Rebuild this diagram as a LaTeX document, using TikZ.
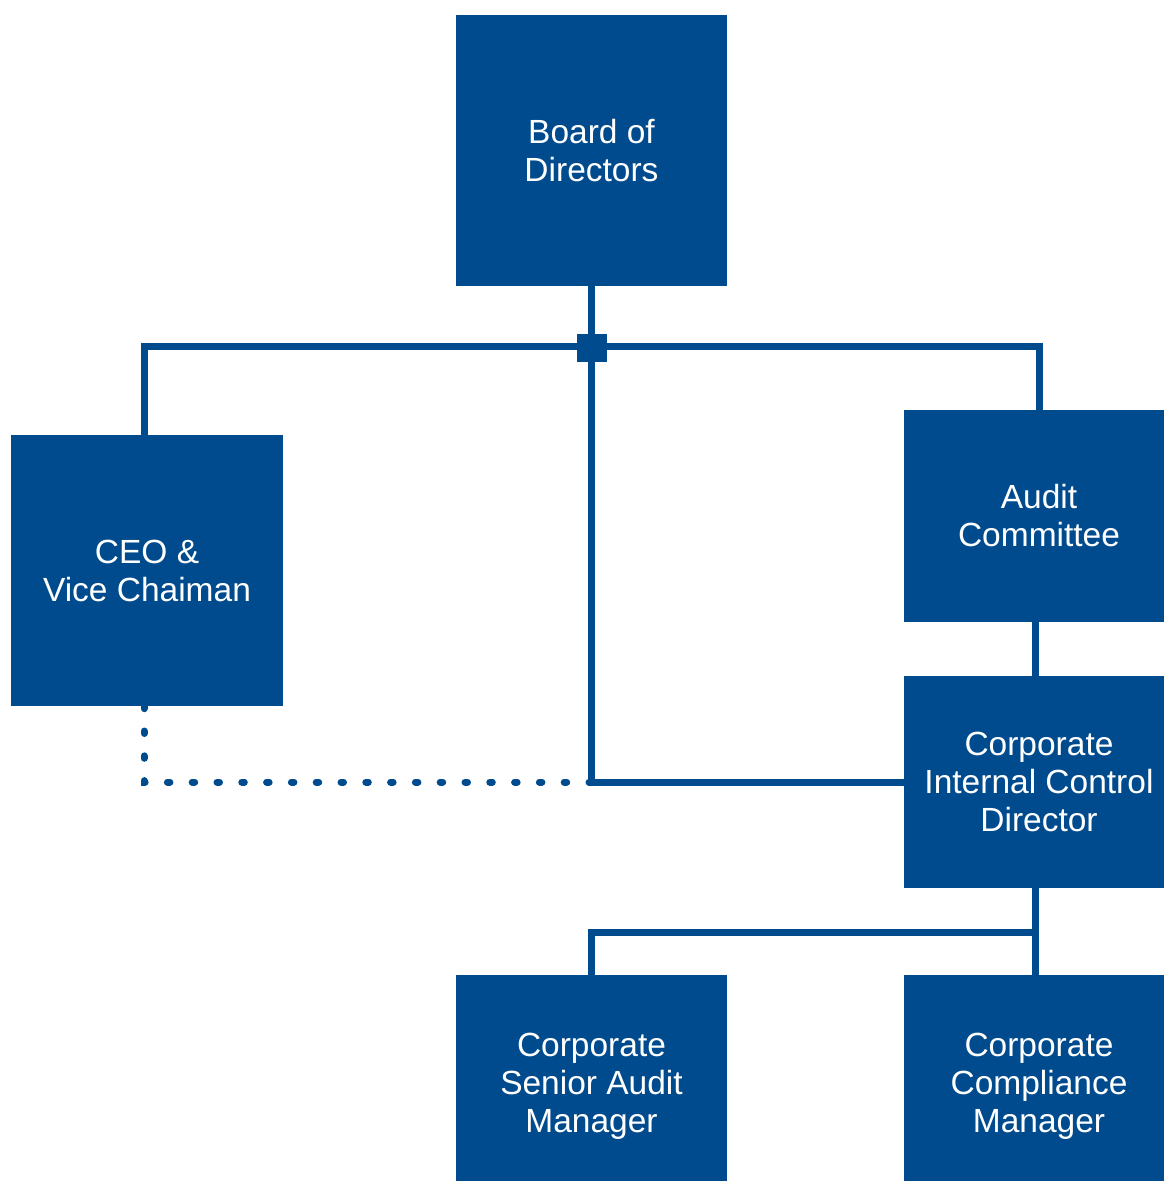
\documentclass[tikz,border=0pt]{standalone}
\usepackage{fontspec}
\setmainfont{Liberation Sans}
\definecolor{navy}{HTML}{004B8D}
\begin{document}
\begin{tikzpicture}[x=1pt,y=-1pt,
  box/.style={draw=none,fill=navy,text=white,align=center,inner sep=0pt,
    font=\fontsize{33.5}{38}\selectfont},
  link/.style={draw=navy,line width=7pt},
  dotlink/.style={draw=navy,line width=7pt,line cap=round,dash pattern=on 2.5pt off 22.3pt}]
\useasboundingbox (0,0) rectangle (1164,1181);
\node[box,minimum width=271pt,minimum height=271pt] (board) at (591.5,150.5) {Board of\\Directors};
\node[box,minimum width=272pt,minimum height=271pt] (ceo) at (147,570.5) {CEO \&\\Vice Chaiman};
\node[box,minimum width=270pt,minimum height=212pt] (audit) at (1039,516) {Audit\\Committee};
\node[box,minimum width=270pt,minimum height=212pt] (dir) at (1039,782) {Corporate\\Internal Control\\Director};
\node[box,minimum width=271pt,minimum height=222pt] (senior) at (591.5,1086) {Corporate\\Senior Audit\\Manager};
\node[box,minimum width=270pt,minimum height=222pt] (comp) at (1039,1086) {Corporate\\Compliance\\Manager};
\coordinate (junc) at (592,346);
\coordinate (split) at (1035,932);
% dotted link
\draw[dotlink] ([xshift=-3pt]ceo.south) -- ([xshift=-3pt]ceo.south |- dir.west) -- (board.south |- dir.west);
% main links
\draw[link] (board.south) |- (dir.west);
\draw[link] ([xshift=-3pt]ceo.north) |- (junc) -| (audit.north);
\draw[link] ([xshift=-4pt]audit.south) -- ([xshift=-4pt]dir.north);
\draw[link] ([xshift=-4pt]dir.south) -- ([xshift=-4pt]comp.north);
\draw[link] (split) -| (senior.north);
\node[fill=navy,minimum width=30pt,minimum height=28pt,inner sep=0pt] (jsq) at (592,348) {};
\end{tikzpicture}
\end{document}
